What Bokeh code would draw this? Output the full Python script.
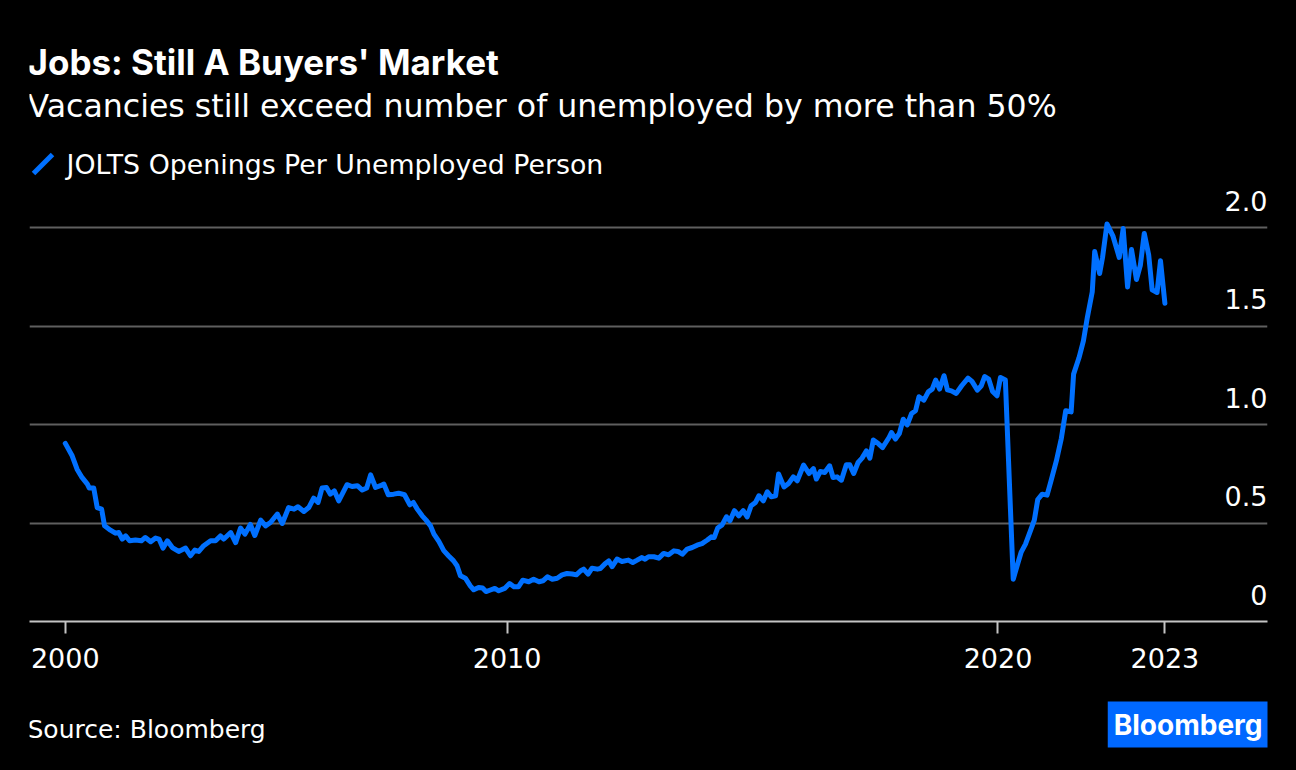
from bokeh.plotting import figure
from bokeh.layouts import column
from bokeh.models import Label, FixedTicker, Range1d, Arrow, Grid
from bokeh.core.properties import value
from bokeh.embed import file_html
from bokeh.resources import INLINE

# ---- data ----
# month-end dates as decimal years, JOLTS openings per unemployed person
dates = [
    2001.00, 2001.14, 2001.24, 2001.34, 2001.45, 2001.49, 2001.58, 2001.65, 2001.74, 2001.80,
    2001.92, 2002.02, 2002.09, 2002.16, 2002.23, 2002.31, 2002.43, 2002.55, 2002.63, 2002.74,
    2002.84, 2002.91, 2002.99, 2003.08, 2003.18, 2003.31, 2003.45, 2003.55, 2003.64, 2003.72,
    2003.82, 2003.96, 2004.06, 2004.16, 2004.23, 2004.37, 2004.47, 2004.57, 2004.66, 2004.77,
    2004.86, 2004.98, 2005.08, 2005.18, 2005.32, 2005.42, 2005.55, 2005.66, 2005.74, 2005.86,
    2005.96, 2006.06, 2006.15, 2006.23, 2006.32, 2006.40, 2006.48, 2006.57, 2006.74, 2006.84,
    2006.95, 2007.05, 2007.14, 2007.22, 2007.32, 2007.42, 2007.49, 2007.58, 2007.69, 2007.79,
    2007.91, 2008.02, 2008.09, 2008.17, 2008.27, 2008.35, 2008.44, 2008.51, 2008.61, 2008.71,
    2008.81, 2008.91, 2008.98, 2009.05, 2009.15, 2009.25, 2009.32, 2009.42, 2009.50, 2009.57,
    2009.66, 2009.75, 2009.83, 2009.95, 2010.05, 2010.14, 2010.23, 2010.32, 2010.44, 2010.54,
    2010.65, 2010.73, 2010.82, 2010.92, 2011.02, 2011.12, 2011.22, 2011.33, 2011.41, 2011.50,
    2011.56, 2011.65, 2011.73, 2011.84, 2011.90, 2011.99, 2012.07, 2012.14, 2012.24, 2012.34,
    2012.47, 2012.56, 2012.65, 2012.74, 2012.81, 2012.88, 2012.99, 2013.09, 2013.19, 2013.29,
    2013.40, 2013.48, 2013.57, 2013.67, 2013.77, 2013.87, 2013.97, 2014.08, 2014.16, 2014.22,
    2014.29, 2014.38, 2014.47, 2014.54, 2014.63, 2014.72, 2014.81, 2014.89, 2014.97, 2015.06,
    2015.13, 2015.22, 2015.30, 2015.38, 2015.47, 2015.53, 2015.64, 2015.74, 2015.83, 2015.91,
    2016.04, 2016.15, 2016.24, 2016.30, 2016.38, 2016.47, 2016.57, 2016.64, 2016.72, 2016.81,
    2016.91, 2016.98, 2017.06, 2017.15, 2017.23, 2017.32, 2017.39, 2017.46, 2017.56, 2017.65,
    2017.78, 2017.83, 2017.91, 2017.99, 2018.07, 2018.15, 2018.24, 2018.32, 2018.39, 2018.49,
    2018.58, 2018.66, 2018.73, 2018.81, 2018.90, 2018.97, 2019.05, 2019.15, 2019.26, 2019.39,
    2019.47, 2019.58, 2019.66, 2019.73, 2019.81, 2019.89, 2019.98, 2020.05, 2020.15, 2020.31,
    2020.40, 2020.47, 2020.56, 2020.66, 2020.74, 2020.81, 2020.90, 2021.00, 2021.08, 2021.19,
    2021.29, 2021.38, 2021.49, 2021.54, 2021.65, 2021.74, 2021.82, 2021.92, 2021.97, 2022.07,
    2022.13, 2022.22, 2022.34, 2022.47, 2022.55, 2022.64, 2022.72, 2022.82, 2022.90, 2022.98,
    2023.07, 2023.14, 2023.24, 2023.31, 2023.40,
]
ratio = [
    0.905, 0.842, 0.774, 0.732, 0.698, 0.678, 0.678, 0.579, 0.571, 0.486,
    0.464, 0.449, 0.452, 0.419, 0.435, 0.410, 0.414, 0.410, 0.427, 0.405,
    0.424, 0.419, 0.373, 0.410, 0.376, 0.356, 0.373, 0.334, 0.363, 0.356,
    0.385, 0.410, 0.410, 0.435, 0.419, 0.452, 0.401, 0.475, 0.444, 0.493,
    0.437, 0.515, 0.486, 0.503, 0.546, 0.498, 0.579, 0.571, 0.583, 0.559,
    0.579, 0.627, 0.605, 0.678, 0.681, 0.647, 0.664, 0.613, 0.695, 0.686,
    0.690, 0.668, 0.678, 0.745, 0.681, 0.690, 0.698, 0.644, 0.647, 0.652,
    0.644, 0.593, 0.605, 0.571, 0.537, 0.515, 0.486, 0.444, 0.407, 0.360,
    0.333, 0.308, 0.283, 0.232, 0.220, 0.181, 0.161, 0.173, 0.170, 0.152,
    0.160, 0.168, 0.156, 0.168, 0.193, 0.176, 0.176, 0.210, 0.202, 0.215,
    0.202, 0.207, 0.227, 0.215, 0.220, 0.237, 0.244, 0.241, 0.237, 0.258,
    0.266, 0.241, 0.271, 0.266, 0.269, 0.292, 0.308, 0.279, 0.317, 0.305,
    0.312, 0.300, 0.312, 0.325, 0.317, 0.329, 0.329, 0.322, 0.346, 0.339,
    0.359, 0.356, 0.342, 0.368, 0.376, 0.388, 0.396, 0.414, 0.430, 0.427,
    0.475, 0.491, 0.532, 0.512, 0.563, 0.537, 0.563, 0.532, 0.588, 0.605,
    0.639, 0.613, 0.659, 0.634, 0.639, 0.749, 0.684, 0.703, 0.735, 0.715,
    0.795, 0.752, 0.777, 0.724, 0.762, 0.757, 0.791, 0.732, 0.735, 0.718,
    0.796, 0.796, 0.752, 0.808, 0.830, 0.867, 0.830, 0.922, 0.904, 0.884,
    0.935, 0.960, 0.927, 0.955, 1.028, 0.999, 1.057, 1.071, 1.142, 1.125,
    1.167, 1.181, 1.227, 1.181, 1.249, 1.177, 1.172, 1.159, 1.198, 1.237,
    1.220, 1.176, 1.198, 1.245, 1.232, 1.169, 1.147, 1.240, 1.227, 0.215,
    0.292, 0.351, 0.393, 0.460, 0.515, 0.620, 0.647, 0.642, 0.715, 0.817,
    0.930, 1.071, 1.065, 1.257, 1.340, 1.426, 1.545, 1.675, 1.880, 1.768,
    1.850, 2.020, 1.960, 1.850, 1.997, 1.700, 1.890, 1.738, 1.810, 1.972,
    1.862, 1.686, 1.672, 1.833, 1.617,
]

x_ticks = [2001, 2010, 2020, 2023.4]
x_tick_labels = ["2000", "2010", "2020", "2023"]
y_ticks = [0, 0.5, 1.0, 1.5, 2.0]
y_tick_labels = ["0", "0.5", "1.0", "1.5", "2.0"]

title_text = "Jobs: Still A Buyers' Market"
subtitle_text = "Vacancies still exceed number of unemployed by more than 50%"
legend_text = "JOLTS Openings Per Unemployed Person"
source_text = "Source: Bloomberg"
logo_text = "Bloomberg"

BLUE = "#0070FF"
LOGO_BLUE = "#0068FF"
FONT = "DejaVu Sans"
BOLD_FONT = "Inter"

# ---- main chart ----
p = figure(
    width=1296, height=690,
    output_backend="svg", toolbar_location=None,
    x_range=Range1d(2000.271, 2025.49), y_range=Range1d(0, 621 / 196.8),
    y_axis_location=None,
    min_border_left=29, min_border_right=29, min_border_top=0, min_border_bottom=69,
    background_fill_color="black", border_fill_color="black",
    outline_line_color=None,
)
p.xgrid.visible = False
for g in p.ygrid:
    g.visible = False

p.add_layout(Grid(dimension=1, ticker=FixedTicker(ticks=[t for t in y_ticks if t > 0]),
                  grid_line_color="#5f5f5f", grid_line_width=2))

ax = p.xaxis[0]
ax.ticker = FixedTicker(ticks=x_ticks)
ax.major_label_overrides = dict(zip(x_ticks, x_tick_labels))
ax.axis_line_color = "#c4c4c4"
ax.axis_line_width = 2
ax.major_tick_line_color = "#c4c4c4"
ax.major_tick_line_width = 2
ax.major_tick_out = 12
ax.major_tick_in = 0
ax.minor_tick_line_color = None
ax.major_label_text_color = "white"
ax.major_label_text_font = FONT
ax.major_label_text_font_size = "27px"
ax.major_label_standoff = 14

p.line(dates, ratio, line_color=BLUE, line_width=5, line_join="round", line_cap="round")

p.text(x=[p.x_range.end] * len(y_ticks), y=y_ticks, text=y_tick_labels,
       text_align="right", text_baseline="middle", y_offset=-27,
       text_color="white", text_font=value(FONT), text_font_size="27px")

common = dict(x_units="screen", y_units="screen", text_color="white",
              text_baseline="middle")
p.add_layout(Label(x=-2, y=560, text=title_text, text_font=BOLD_FONT,
                   text_font_size="35px", text_font_style="bold", **common))
p.add_layout(Label(x=-2, y=516, text=subtitle_text, text_font=FONT,
                   text_font_size="31.6px", **common))
p.add_layout(Label(x=37, y=457, text=legend_text, text_font=FONT,
                   text_font_size="26.8px", **common))
p.add_layout(Arrow(end=None, x_start=4, y_start=448, x_end=23, y_end=467,
                   start_units="screen", end_units="screen",
                   line_color=BLUE, line_width=5))

# ---- footer (source + logo); its frame is aligned with the main frame ----
f = figure(
    width=1296, height=80,
    output_backend="svg", toolbar_location=None,
    x_range=Range1d(0, 1238), y_range=Range1d(0, 80),
    x_axis_location=None, y_axis_location=None,
    min_border_left=29, min_border_right=29,
    min_border_top=0, min_border_bottom=0,
    background_fill_color="black", border_fill_color="black",
    outline_line_color=None,
)
f.grid.visible = False
f.add_layout(Label(x=-2, y=41, text=source_text, text_font=FONT,
                   text_font_size="25px", **common))
f.add_layout(Label(x=1239, y=46, text=logo_text, text_font=BOLD_FONT,
                   text_font_size="28px", text_font_style="bold", text_align="right",
                   background_fill_color=LOGO_BLUE, padding=6, **common))

layout = column(p, f, spacing=0)

html = file_html(layout, INLINE)
html = html.replace("<head>", "<head><style>html,body{background:#000;}</style>", 1)
open("out.html", "w").write(html)
